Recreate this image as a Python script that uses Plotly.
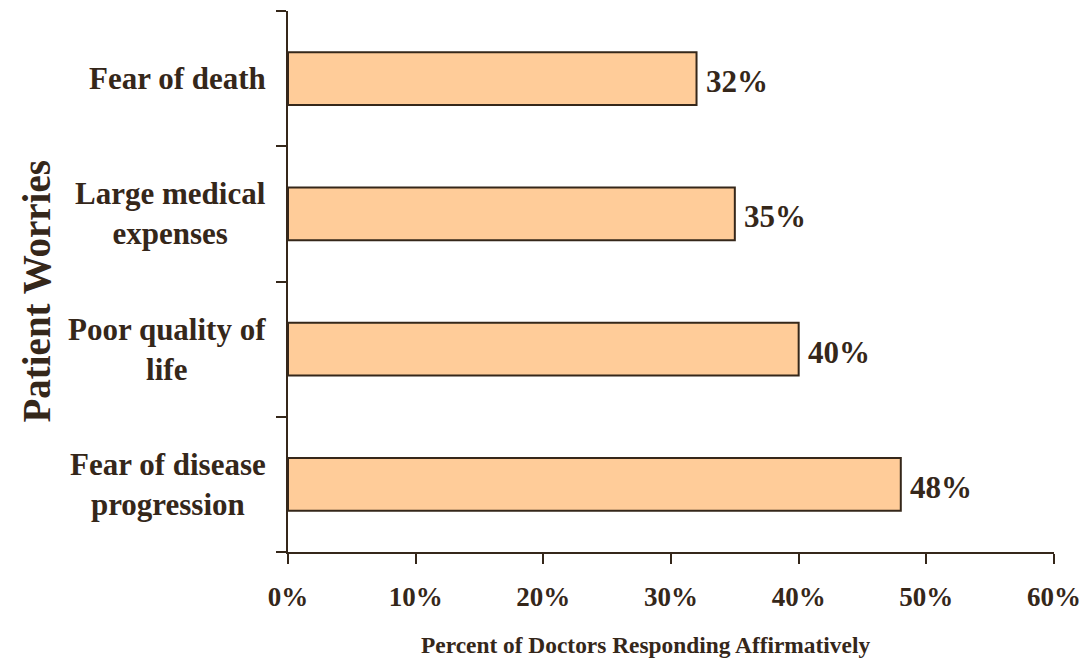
import plotly.graph_objects as go

# Survey data: patient worries reported by doctors (bottom to top)
categories = [
    "Fear of disease<br>progression",
    "Poor quality of<br>life",
    "Large medical<br>expenses",
    "Fear of death",
]
percents = [48, 40, 35, 32]
x_ticks = [0, 10, 20, 30, 40, 50, 60]
x_tick_labels = [f"{v}%" for v in x_ticks]

INK = "#35271a"
FILL = "#ffcc99"
FONT = "Liberation Serif"

fig = go.Figure(
    go.Bar(
        x=percents,
        y=categories,
        orientation="h",
        marker=dict(color=FILL, line=dict(color=INK, width=2)),
        cliponaxis=False,
    )
)

# Value labels to the right of each bar
for cat, v in zip(categories, percents):
    fig.add_annotation(
        x=v, xref="x", y=cat, yref="y",
        text=f"{v}%", showarrow=False,
        xanchor="left", yanchor="middle", xshift=7, yshift=-3,
        font=dict(family=FONT, size=31, color=INK, weight="bold"),
    )

# Category labels as centered multi-line annotations left of the axis
for cat in categories:
    fig.add_annotation(
        x=0, xref="paper", y=cat, yref="y",
        text=cat, showarrow=False,
        xanchor="right", yanchor="middle", align="center",
        xshift=-20,
        font=dict(family=FONT, size=31, color=INK, weight="bold"),
    )

fig.add_annotation(
    x=0.467, xref="paper", y=-0.172, yref="paper",
    text="Percent of Doctors Responding Affirmatively",
    showarrow=False, xanchor="center", yanchor="middle",
    font=dict(family=FONT, size=23.4, color=INK, weight="bold"),
)
fig.add_annotation(
    x=-0.328, xref="paper", y=0.481, yref="paper",
    text="Patient Worries", textangle=-90,
    showarrow=False, xanchor="center", yanchor="middle",
    font=dict(family=FONT, size=39, color=INK, weight="bold"),
)

fig.update_layout(
    template="none",
    width=1085, height=660,
    margin=dict(l=288, r=31, t=11, b=108),
    paper_bgcolor="white", plot_bgcolor="white",
    bargap=0.61,
    showlegend=False,
    xaxis=dict(
        range=[0, 60], tickvals=x_ticks, ticktext=x_tick_labels,
        showgrid=False, zeroline=False, automargin=False,
        showline=True, linecolor=INK, linewidth=2,
        ticks="outside", ticklen=10, tickwidth=2, tickcolor=INK,
        tickfont=dict(family=FONT, size=27, color=INK, weight="bold"),
        ticklabelstandoff=10,
    ),
    yaxis=dict(
        showgrid=False, zeroline=False, automargin=False,
        showline=True, linecolor=INK, linewidth=2,
        ticks="outside", ticklen=10, tickwidth=2, tickcolor=INK,
        tickson="boundaries", showticklabels=False,
        range=[-0.5, 3.5],
    ),
)

fig.write_html("out.html")
